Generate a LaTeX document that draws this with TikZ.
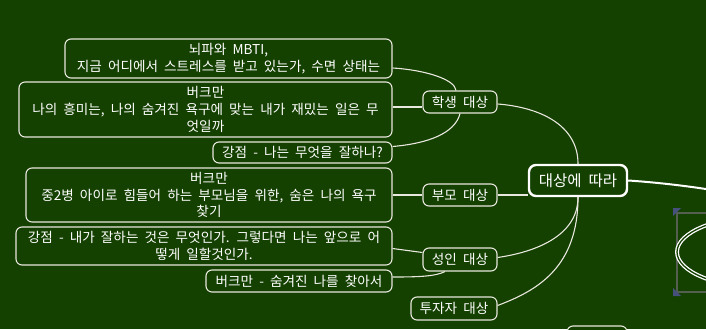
\documentclass[tikz,border=0pt]{standalone}
\usepackage{fontspec}
\setmainfont{Noto Sans CJK KR}[WordSpace=2]
\usetikzlibrary{calc,shapes.geometric}
\definecolor{bg}{RGB}{20,64,0}
\definecolor{edge}{RGB}{232,232,222}
\definecolor{selgray}{RGB}{85,95,80}
\definecolor{selblue}{RGB}{70,80,125}
\begin{document}
\begin{tikzpicture}[x=1pt,y=-1pt,
  box/.style={draw=edge, line width=1.1pt, rounded corners=6pt, fill=bg, text=white,
    inner sep=0pt, align=center, font=\fontsize{13.6}{16.8}\selectfont},
  link/.style={draw=edge, line width=1.1pt},
]
\fill[bg] (0,0) rectangle (706,329);
\useasboundingbox (0,0) rectangle (706,329);
\clip (0,0) rectangle (706,329);

% leaf nodes
\node[box, minimum width=327pt, minimum height=39pt] (n1) at (228.5,58.5)
  {뇌파와 MBTI,\\지금 어디에서 스트레스를 받고 있는가, 수면 상태는};
\node[box, minimum width=373pt, minimum height=55pt] (n2) at (205.5,109.5)
  {버크만\\나의 흥미는, 나의 숨겨진 욕구에 맞는 내가 재밌는 일은 무\\엇일까};
\node[box, minimum width=179pt, minimum height=21pt] (n3) at (302.5,152.5)
  {강점 - 나는 무엇을 잘하나?};
\node[box, minimum width=366pt, minimum height=54pt] (n4) at (209,195)
  {버크만\\중2병 아이로 힘들어 하는 부모님을 위한, 숨은 나의 욕구\\찾기};
\node[box, minimum width=376pt, minimum height=38pt] (n5) at (204,246)
  {강점 - 내가 잘하는 것은 무엇인가. 그렇다면 나는 앞으로 어\\떻게 일할것인가.};
\node[box, minimum width=186pt, minimum height=22pt] (n6) at (299,281)
  {버크만 - 숨겨진 나를 찾아서};

% middle nodes
\node[box, minimum width=74pt, minimum height=22pt] (s1) at (460,102) {학생 대상};
\node[box, minimum width=74pt, minimum height=22pt] (s2) at (460,195) {부모 대상};
\node[box, minimum width=74pt, minimum height=23pt] (s3) at (460,259.5) {성인 대상};
\node[box, minimum width=86pt, minimum height=23pt] (s4) at (454,308.5) {투자자 대상};

% main node
\node[box, draw=white, line width=2.4pt, rounded corners=7pt, minimum width=98pt,
  minimum height=31pt, font=\fontsize{15.5}{18}\selectfont] (main) at (578,180.5) {대상에 따라};

% partial nodes at the edges
\node[box, minimum width=60pt, minimum height=22pt] (low) at (597,337) {};
\draw[selgray, line width=1.5pt] (677,213) rectangle (730,292);
\fill[selblue] (673,208) -- (681,208) -- (673,216) -- cycle;
\fill[selblue] (673,296) -- (681,296) -- (673,288) -- cycle;
\node[ellipse, draw=white, line width=1.3pt, double=bg, double distance=1.3pt,
  minimum width=178pt, minimum height=72pt, inner sep=0pt] (core) at (766,252) {};
\coordinate (off) at (740,195);

% connectors
\draw[link, draw=white, line width=2pt] (main.east) .. controls +(30,2) and +(-40,-8) .. (off);
\draw[link] (main.north) .. controls +(0,-40) and +(40,3) .. ($(s1.east)+(0,2)$);
\draw[link] (s2.east) -- (s2.east -| main.west);
\draw[link] (main.south) .. controls +(0,40) and +(35,-5) .. ($(s3.east)+(0,-2)$);
\draw[link] (main.south) .. controls +(0,70) and +(40,-15) .. ($(s4.east)+(0,-3)$);

\draw[link] ($(s1.north)+(-4,0)$) .. controls +(-1,-11) and +(33,2) .. ($(n1.east)+(0,9.5)$);
\draw[link] ($(s1.west)+(0,5)$) -- ($(n2.east)+(0,-2.5)$);
\draw[link] (s1.south) .. controls +(-5,20) and +(35,-3) .. ($(n3.east)+(0,-6)$);
\draw[link] (s2.west) -- (n4.east);
\draw[link] ($(s3.west)+(0,-7)$) -- ($(n5.east)+(0,2.5)$);
\draw[link] ($(s3.south)+(-15,0)$) .. controls +(-10,5) and +(25,0) .. ($(n6.east)+(0,-4)$);
\end{tikzpicture}
\end{document}
